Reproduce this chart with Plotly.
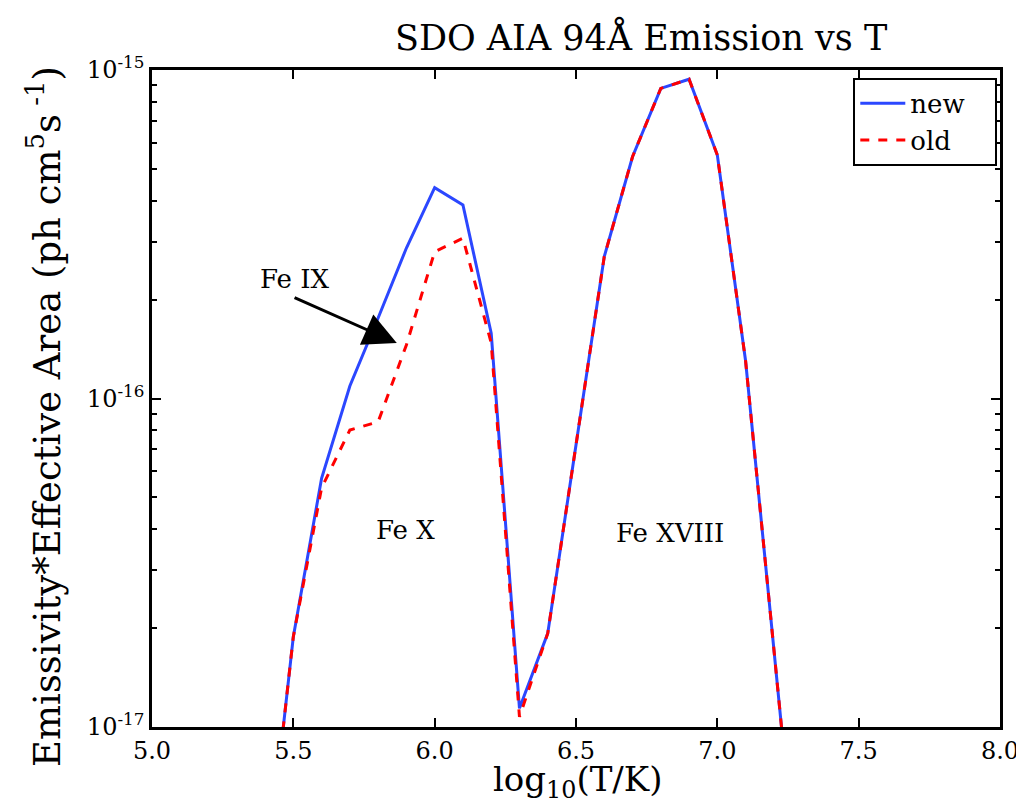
import plotly.graph_objects as go

# log10(T/K)
logT = [5.4, 5.5, 5.6, 5.7, 5.8, 5.9, 6.0, 6.1, 6.2, 6.3, 6.4, 6.5, 6.6, 6.7, 6.8, 6.9, 7.0, 7.1, 7.2, 7.3]
# log10 of emissivity * effective area
log_new = [-17.5, -16.725, -16.243, -15.962, -15.755, -15.542, -15.358, -15.411, -15.801, -16.943,
           -16.715, -16.148, -15.568, -15.264, -15.056, -15.028, -15.259, -15.886, -16.756, -17.64]
log_old = [-17.5, -16.725, -16.272, -16.096, -16.071, -15.837, -15.553, -15.512, -15.831, -16.969,
           -16.715, -16.148, -15.568, -15.264, -15.056, -15.028, -15.259, -15.886, -16.756, -17.64]

new_vals = [10 ** v for v in log_new]
old_vals = [10 ** v for v in log_old]

ytick_vals = [1e-17, 1e-16, 1e-15]
ytick_text = ["10<sup>-17</sup>", "10<sup>-16</sup>", "10<sup>-15</sup>"]
yminor_vals = [k * 10.0 ** e for e in (-17, -16) for k in range(2, 10)]
xtick_vals = [5.0, 5.5, 6.0, 6.5, 7.0, 7.5, 8.0]
xtick_text = ["5.0", "5.5", "6.0", "6.5", "7.0", "7.5", "8.0"]

FONT = "DejaVu Serif"
PAD = "\u00a0\u00a0\u00a0"

fig = go.Figure()
fig.add_trace(go.Scatter(x=logT, y=new_vals, mode="lines", name="new" + PAD,
                         line=dict(color="#2b47ff", width=3)))
fig.add_trace(go.Scatter(x=logT, y=old_vals, mode="lines", name="old" + PAD,
                         line=dict(color="#ff0000", width=3, dash="dash")))

fig.update_layout(
    width=1016, height=806,
    margin=dict(l=152, r=16, t=70, b=79),
    paper_bgcolor="white", plot_bgcolor="white",
    font=dict(family=FONT, color="black"),
    title=dict(text="SDO AIA 94Å Emission vs T", x=0.631, xanchor="center",
               y=0.953, yanchor="middle", font=dict(family=FONT, size=35)),
    legend=dict(x=0.827, y=0.988, xanchor="left", yanchor="top",
                bordercolor="black", borderwidth=2, bgcolor="white",
                itemwidth=45, font=dict(family=FONT, size=26)),
    xaxis=dict(range=[5.0, 8.0], tickvals=xtick_vals, ticktext=xtick_text,
               ticks="inside", ticklen=9, tickwidth=2, tickcolor="black",
               showline=True, linecolor="black", linewidth=2.5, mirror="ticks",
               showgrid=False, zeroline=False, automargin=False,
               ticklabeloverflow="allow",
               tickfont=dict(family=FONT, size=24)),
    yaxis=dict(type="log", range=[-17, -15], tickvals=ytick_vals, ticktext=ytick_text,
               ticks="inside", ticklen=9, tickwidth=2, tickcolor="black",
               minor=dict(tickmode="array", tickvals=yminor_vals, ticks="inside", ticklen=5,
                          tickwidth=1.5, tickcolor="black", showgrid=False),
               showline=True, linecolor="black", linewidth=2.5, mirror="ticks",
               showgrid=False, zeroline=False, automargin=False,
               ticklabeloverflow="allow",
               tickfont=dict(family=FONT, size=24)),
)

# axis titles
fig.add_annotation(xref="paper", yref="paper", x=0.502, y=-0.083, xanchor="center", yanchor="middle",
                   text="log<sub>10</sub>(T/K)", showarrow=False, font=dict(family=FONT, size=34))
fig.add_annotation(xref="paper", yref="paper", x=-0.126, y=0.472, xanchor="center", yanchor="middle",
                   textangle=-90, text="Emissivity*Effective Area (ph cm<sup>5</sup>s<sup> -1</sup>)",
                   showarrow=False, font=dict(family=FONT, size=37))

fig.add_annotation(x=5.866, y=-15.831, ax=5.499, ay=-15.691, axref="x", ayref="y",
                   xref="x", yref="y", text="", showarrow=True, arrowhead=2,
                   arrowsize=2.2, arrowwidth=3, arrowcolor="black")
fig.add_annotation(x=5.506, y=-15.636, text="Fe IX", showarrow=False,
                   font=dict(family=FONT, size=26))
fig.add_annotation(x=5.898, y=-16.40, text="Fe X", showarrow=False,
                   font=dict(family=FONT, size=26))
fig.add_annotation(x=6.832, y=-16.409, text="Fe XVIII", showarrow=False,
                   font=dict(family=FONT, size=26))

fig.write_html("out.html")
